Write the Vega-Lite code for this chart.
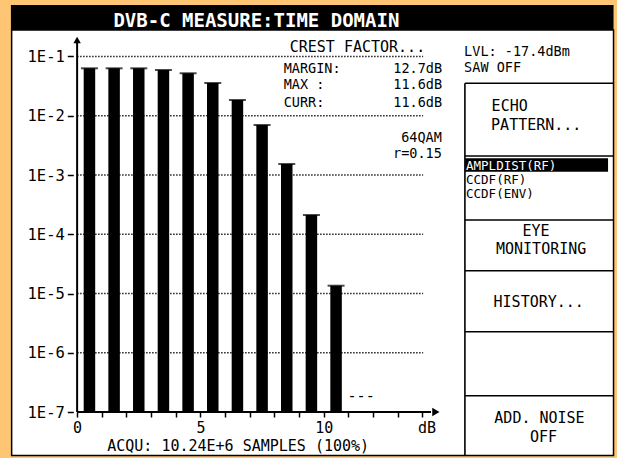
{
  "$schema": "https://vega.github.io/schema/vega-lite/v6.json",
  "width": 617,
  "height": 458,
  "autosize": {"type": "none"},
  "padding": 0,
  "background": "#FEC574",
  "config": {"view": {"stroke": null}},
  "layer": [
    {
      "data": {"values": [{"x": -2.6546, "x2": 21.75, "y": 0.28006, "y2": 1.844e-8}]},
      "mark": {"type": "rect", "fill": "white", "stroke": "black", "strokeWidth": 1.5},
      "encoding": {
        "x": {"field": "x", "type": "quantitative", "scale": {"domain": [-2.924, 21.688], "nice": false, "zero": false}, "axis": {"orient": "bottom", "offset": -46, "values": [0,1,2,3,4,5,6,7,8,9,10,11,12,13,14], "labelExpr": "datum.value % 5 == 0 ? datum.label : ''", "domain": false, "grid": false, "tickSize": 5, "tickWidth": 1.5, "tickColor": "black", "labelColor": "black", "labelFont": "DejaVu Sans Mono", "labelFontSize": 15, "labelPadding": 3, "labelFlush": false, "labelOverlap": false, "title": null, "zindex": 3}},
        "x2": {"field": "x2"},
        "y": {"field": "y", "type": "quantitative", "scale": {"type": "log", "domain": [1.6737e-8, 0.8986], "nice": false, "zero": false}, "axis": {"orient": "left", "offset": -73.3, "values": [1e-7, 1e-6, 1e-5, 1e-4, 1e-3, 1e-2, 1e-1], "labelExpr": "'1E-' + round(-log(datum.value)/LN10)", "domain": false, "grid": false, "tickSize": 6, "tickWidth": 1.5, "tickColor": "black", "labelColor": "black", "labelFont": "DejaVu Sans Mono", "labelFontSize": 15.5, "labelPadding": 3, "labelOverlap": false, "labelFlush": false, "title": null, "zindex": 3}},
        "y2": {"field": "y2"}
      }
    },
    {
      "data": {"values": [{"x": -2.6845, "x2": 21.75, "y": 0.7399, "y2": 0.28006}]},
      "mark": {"type": "rect", "fill": "black"},
      "encoding": {
        "x": {"field": "x", "type": "quantitative"},
        "x2": {"field": "x2"},
        "y": {"field": "y", "type": "quantitative"},
        "y2": {"field": "y2"}
      }
    },
    {
      "data": {"values": [{"t": "DVB-C MEASURE:TIME DOMAIN", "x": 7.268, "y": 0.41308}]},
      "mark": {"type": "text", "font": "DejaVu Sans Mono", "fontSize": 19, "fontWeight": "bold", "align": "center", "baseline": "middle", "dy": 1, "color": "white"},
      "encoding": {
        "x": {"field": "x", "type": "quantitative"},
        "y": {"field": "y", "type": "quantitative"},
        "text": {"field": "t"}
      }
    },
    {
      "data": {"values": [{"p": 0.1}, {"p": 0.01}, {"p": 0.001}, {"p": 0.0001}, {"p": 0.00001}, {"p": 0.000001}]},
      "mark": {"type": "rule", "color": "#222222", "strokeWidth": 1.5, "strokeDash": [1.5, 1.5]},
      "encoding": {
        "x": {"datum": 0},
        "x2": {"datum": 14.03},
        "y": {"field": "p", "type": "quantitative"}
      }
    },
    {
      "data": {"name": "bars", "values": [
        {"db": 0.5, "p": 0.0632}, {"db": 1.5, "p": 0.0632}, {"db": 2.5, "p": 0.0632},
        {"db": 3.5, "p": 0.0592}, {"db": 4.5, "p": 0.0521}, {"db": 5.5, "p": 0.0357},
        {"db": 6.5, "p": 0.01844}, {"db": 7.5, "p": 0.006982}, {"db": 8.5, "p": 0.001533},
        {"db": 9.5, "p": 0.0002113}, {"db": 10.5, "p": 0.00001354}
      ]},
      "layer": [
        {
          "mark": {"type": "bar", "color": "black", "width": 11.5},
          "encoding": {
            "x": {"field": "db", "type": "quantitative"},
            "y": {"field": "p", "type": "quantitative"},
            "y2": {"datum": 1e-7}
          }
        },
        {
          "mark": {"type": "tick", "orient": "horizontal", "color": "black", "size": 17, "thickness": 2},
          "encoding": {
            "x": {"field": "db", "type": "quantitative"},
            "y": {"field": "p", "type": "quantitative"}
          }
        }
      ]
    },
    {
      "data": {"values": [
        {"x": 0, "x2": 0, "y": 1e-7, "y2": 0.19},
        {"x": 0, "x2": 14.35, "y": 1e-7, "y2": 1e-7}
      ]},
      "mark": {"type": "rule", "color": "black", "strokeWidth": 2},
      "encoding": {
        "x": {"field": "x", "type": "quantitative"},
        "x2": {"field": "x2"},
        "y": {"field": "y", "type": "quantitative"},
        "y2": {"field": "y2"}
      }
    },
    {
      "data": {"values": [{"x": 0, "y": 0.18988}]},
      "mark": {"type": "point", "shape": "triangle-up", "filled": true, "size": 55, "color": "black", "opacity": 1},
      "encoding": {
        "x": {"field": "x", "type": "quantitative"},
        "y": {"field": "y", "type": "quantitative"}
      }
    },
    {
      "data": {"values": [{"x": 14.547, "y": 1e-7}]},
      "mark": {"type": "point", "shape": "triangle-right", "filled": true, "size": 70, "color": "black", "opacity": 1},
      "encoding": {
        "x": {"field": "x", "type": "quantitative"},
        "y": {"field": "y", "type": "quantitative"}
      }
    },
    {
      "data": {"values": [
        {"x": 15.724, "x2": 15.724, "y": 0.035292, "y2": 1.844e-8},
        {"x": 15.724, "x2": 21.75, "y": 0.035292, "y2": 0.035292},
        {"x": 15.724, "x2": 21.75, "y": 0.0020926, "y2": 0.0020926},
        {"x": 15.724, "x2": 21.75, "y": 0.00017398, "y2": 0.00017398},
        {"x": 15.724, "x2": 21.75, "y": 0.0000242555, "y2": 0.0000242555},
        {"x": 15.724, "x2": 21.75, "y": 0.00000226608, "y2": 0.00000226608},
        {"x": 15.724, "x2": 21.75, "y": 1.8841e-7, "y2": 1.8841e-7}
      ]},
      "mark": {"type": "rule", "color": "black", "strokeWidth": 1.6},
      "encoding": {
        "x": {"field": "x", "type": "quantitative"},
        "x2": {"field": "x2"},
        "y": {"field": "y", "type": "quantitative"},
        "y2": {"field": "y2"}
      }
    },
    {
      "data": {"values": [{"x": 15.732, "x2": 21.528, "y": 0.0019136, "y2": 0.0011368}]},
      "mark": {"type": "rect", "fill": "black"},
      "encoding": {
        "x": {"field": "x", "type": "quantitative"},
        "x2": {"field": "x2"},
        "y": {"field": "y", "type": "quantitative"},
        "y2": {"field": "y2"}
      }
    },
    {
      "data": {"values": [{"t": "AMPLDIST(RF)", "x": 15.77, "y": 0.0014749}]},
      "mark": {"type": "text", "font": "DejaVu Sans Mono", "fontSize": 12.5, "align": "left", "baseline": "middle", "dy": 1, "color": "white"},
      "encoding": {
        "x": {"field": "x", "type": "quantitative"},
        "y": {"field": "y", "type": "quantitative"},
        "text": {"field": "t"}
      }
    },
    {
      "data": {"values": [
        {"t": "CCDF(RF)", "x": 15.77, "y": 0.00085603},
        {"t": "CCDF(ENV)", "x": 15.77, "y": 0.00049682}
      ]},
      "mark": {"type": "text", "font": "DejaVu Sans Mono", "fontSize": 12.5, "align": "left", "baseline": "middle", "dy": 1, "color": "black"},
      "encoding": {
        "x": {"field": "x", "type": "quantitative"},
        "y": {"field": "y", "type": "quantitative"},
        "text": {"field": "t"}
      }
    },
    {
      "data": {"values": [
        {"t": "MARGIN:", "x": 8.377, "y": 0.06396},
        {"t": "MAX :", "x": 8.377, "y": 0.034345},
        {"t": "CURR:", "x": 8.377, "y": 0.017063},
        {"t": "LVL: -17.4dBm", "x": 15.692, "y": 0.12383},
        {"t": "SAW OFF", "x": 15.692, "y": 0.067274}
      ]},
      "mark": {"type": "text", "font": "DejaVu Sans Mono", "fontSize": 13.5, "align": "left", "baseline": "middle", "dy": 1, "color": "black"},
      "encoding": {
        "x": {"field": "x", "type": "quantitative"},
        "y": {"field": "y", "type": "quantitative"},
        "text": {"field": "t"}
      }
    },
    {
      "data": {"values": [
        {"t": "12.7dB", "x": 14.799, "y": 0.06396},
        {"t": "11.6dB", "x": 14.799, "y": 0.034345},
        {"t": "11.6dB", "x": 14.799, "y": 0.017063},
        {"t": "64QAM", "x": 14.787, "y": 0.0043788},
        {"t": "r=0.15", "x": 14.787, "y": 0.0023061}
      ]},
      "mark": {"type": "text", "font": "DejaVu Sans Mono", "fontSize": 13.5, "align": "right", "baseline": "middle", "dy": 1, "color": "black"},
      "encoding": {
        "x": {"field": "x", "type": "quantitative"},
        "y": {"field": "y", "type": "quantitative"},
        "text": {"field": "t"}
      }
    },
    {
      "data": {"values": [
        {"t": "CREST FACTOR...", "x": 11.367, "y": 0.150389},
        {"t": "ACQU: 10.24E+6 SAMPLES (100%)", "x": 6.53, "y": 2.77357e-8},
        {"t": "dB", "x": 14.188, "y": 5.58258e-8},
        {"t": "---", "x": 11.516, "y": 1.93606e-7},
        {"t": "ECHO", "x": 17.539, "y": 0.015364},
        {"t": "PATTERN...", "x": 18.616, "y": 0.0073994},
        {"t": "EYE", "x": 18.604, "y": 0.00011796},
        {"t": "MONITORING", "x": 18.815, "y": 0.0000597546},
        {"t": "HISTORY...", "x": 18.716, "y": 0.00000747167},
        {"t": "ADD. NOISE", "x": 18.748, "y": 8.33058e-8},
        {"t": "OFF", "x": 18.915, "y": 3.93493e-8}
      ]},
      "mark": {"type": "text", "font": "DejaVu Sans Mono", "fontSize": 15, "align": "center", "baseline": "middle", "dy": 1, "color": "black"},
      "encoding": {
        "x": {"field": "x", "type": "quantitative"},
        "y": {"field": "y", "type": "quantitative"},
        "text": {"field": "t"}
      }
    }
  ]
}
